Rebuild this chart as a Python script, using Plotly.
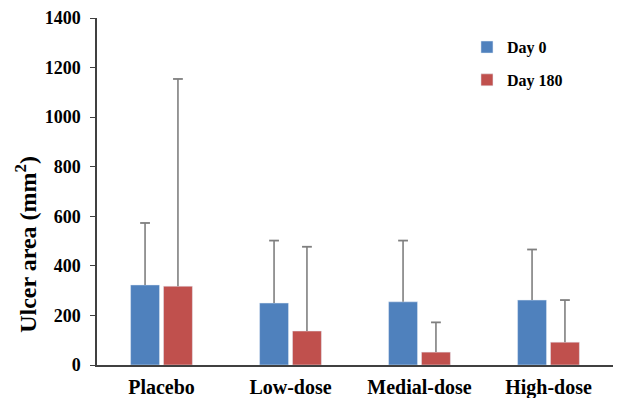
import plotly.graph_objects as go

categories = ["Placebo", "Low-dose", "Medial-dose", "High-dose"]
day0_mean = [323, 250, 255, 262]
day0_sd = [250, 252, 247, 204]
day180_mean = [318, 137, 52, 92]
day180_sd = [836, 340, 120, 170]
series_names = ["Day 0", "Day 180"]
y_ticks = [0, 200, 400, 600, 800, 1000, 1200, 1400]
y_title = "Ulcer area (mm<sup>2</sup>)"

FONT = "Liberation Serif"
ERR_COLOR = "#7f7f7f"

fig = go.Figure()
for name, mean, sd, color, grp in [
    (series_names[0], day0_mean, day0_sd, "#4F81BD", "a"),
    (series_names[1], day180_mean, day180_sd, "#C0504D", "b"),
]:
    fig.add_trace(go.Bar(
        x=categories, y=mean, name=name, marker_color=color,
        legendgroup=grp, offsetgroup=grp,
        error_y=dict(type="data", symmetric=False, array=sd,
                     arrayminus=[0] * len(sd), color=ERR_COLOR,
                     thickness=1.6, width=0),
    ))
    # caps on the upper end of the error bars only
    fig.add_trace(go.Scatter(
        x=categories, y=[m + s for m, s in zip(mean, sd)], mode="markers",
        offsetgroup=grp, legendgroup=grp, showlegend=False, hoverinfo="skip",
        marker=dict(symbol="line-ew", size=7, line=dict(color=ERR_COLOR, width=1.8)),
    ))

fig.update_layout(
    width=617, height=398,
    margin=dict(l=97, r=4, t=18, b=33),
    paper_bgcolor="white", plot_bgcolor="white",
    barmode="group", bargap=0.49, bargroupgap=0.12,
    scattermode="group", scattergap=0.49,
    font=dict(family=FONT, color="black", size=17),
    showlegend=True,
    legend=dict(x=0.717, y=0.965, xanchor="left", yanchor="top",
                font=dict(family=FONT, size=16, color="black", weight="bold"),
                tracegroupgap=9, bgcolor="rgba(0,0,0,0)", itemwidth=30),
    xaxis=dict(
        range=[-0.5, 3.5], showline=True, linecolor="#404040", linewidth=1.5,
        ticks="", showgrid=False, zeroline=False, ticklabelstandoff=3,
        automargin=False,
        tickfont=dict(family=FONT, size=20, color="black", weight="bold"),
    ),
    yaxis=dict(
        range=[0, 1400], tickvals=y_ticks, showline=True, linecolor="#404040",
        linewidth=1.5, ticks="outside", ticklen=5, tickcolor="#404040",
        showgrid=False, zeroline=False, ticklabelstandoff=6, automargin=False,
        tickfont=dict(family=FONT, size=18, color="black", weight="bold"),
    ),
    annotations=[dict(
        text=y_title, xref="paper", yref="paper",
        x=-0.139, y=0.347, xanchor="center", yanchor="middle",
        textangle=-90, showarrow=False,
        font=dict(family=FONT, size=24, color="black", weight="bold"),
    )],
)

fig.write_html("out.html")
